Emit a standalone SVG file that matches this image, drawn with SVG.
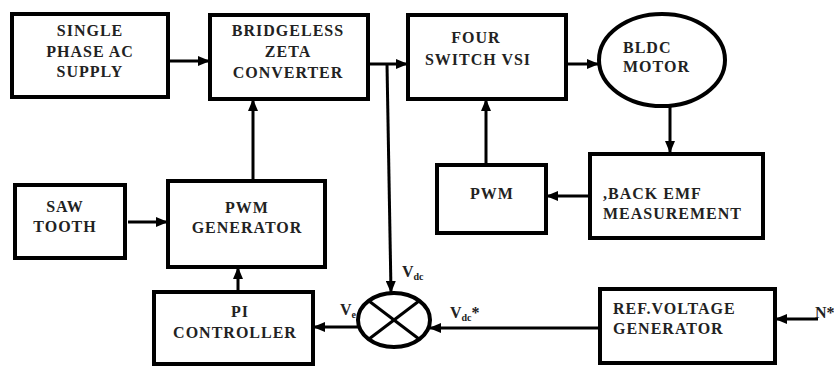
<svg xmlns="http://www.w3.org/2000/svg" width="834" height="367" viewBox="0 0 834 367">
<style>
.box{fill:#fff;stroke:#000;stroke-width:4}
text{font-family:'Liberation Serif',serif;font-weight:bold;font-size:16px;fill:#222}
.t{letter-spacing:1px}
.c{text-anchor:middle}
.ln{stroke:#000;stroke-width:3;fill:none}
.sub{font-size:10px}
</style>
<defs>
<marker id="ah" markerUnits="userSpaceOnUse" markerWidth="12" markerHeight="10" refX="11" refY="5" orient="auto">
<path d="M0,0 L12,5 L0,10 Z" fill="#000"/>
</marker>
</defs>
<rect width="834" height="367" fill="#fff"/>

<g id="connectors">
<line class="ln" x1="168" y1="61" x2="209" y2="61" marker-end="url(#ah)"/>
<line class="ln" x1="368" y1="64" x2="407" y2="64" marker-end="url(#ah)"/>
<line class="ln" x1="566" y1="64" x2="598" y2="64" marker-end="url(#ah)"/>
<line class="ln" x1="670" y1="106" x2="670" y2="152" marker-end="url(#ah)"/>
<line class="ln" x1="590" y1="196" x2="547" y2="196" marker-end="url(#ah)"/>
<line class="ln" x1="486" y1="165" x2="486" y2="100" marker-end="url(#ah)"/>
<line class="ln" x1="387" y1="64" x2="391" y2="292" marker-end="url(#ah)"/>
<line class="ln" x1="128" y1="222" x2="167" y2="222" marker-end="url(#ah)"/>
<line class="ln" x1="253" y1="180" x2="253" y2="100" marker-end="url(#ah)"/>
<line class="ln" x1="238" y1="291" x2="238" y2="268" marker-end="url(#ah)"/>
<line class="ln" x1="358" y1="327" x2="314" y2="327" marker-end="url(#ah)"/>
<line class="ln" x1="600" y1="328" x2="430" y2="328" marker-end="url(#ah)"/>
<line class="ln" x1="818" y1="319" x2="776" y2="319" marker-end="url(#ah)"/>
</g>

<g id="supply">
<rect class="box" x="12" y="14" width="156" height="83"/>
<text class="t c" x="90" y="36">SINGLE</text>
<text class="t c" x="90" y="57">PHASE AC</text>
<text class="t c" x="90" y="77">SUPPLY</text>
</g>

<g id="zeta">
<rect class="box" x="210" y="15" width="158" height="84"/>
<text class="t c" x="288" y="36">BRIDGELESS</text>
<text class="t c" x="288" y="57">ZETA</text>
<text class="t c" x="288" y="78">CONVERTER</text>
</g>

<g id="vsi">
<rect class="box" x="408" y="15" width="158" height="84"/>
<text class="t c" x="476" y="43">FOUR</text>
<text class="t c" x="478" y="65">SWITCH VSI</text>
</g>

<g id="motor">
<ellipse cx="662" cy="60" rx="63" ry="46" fill="#fff" stroke="#000" stroke-width="4"/>
<text class="t" x="623" y="53">BLDC</text>
<text class="t" x="623" y="72">MOTOR</text>
</g>

<g id="backemf">
<rect class="box" x="590" y="154" width="173" height="84"/>
<text class="t" x="603" y="199">,BACK EMF</text>
<text class="t" x="603" y="219">MEASUREMENT</text>
</g>

<g id="pwm">
<rect class="box" x="437" y="165" width="109" height="68"/>
<text class="t c" x="492" y="199">PWM</text>
</g>

<g id="sawtooth">
<rect class="box" x="15" y="185" width="110" height="73"/>
<text class="t c" x="65" y="212">SAW</text>
<text class="t c" x="65" y="232">TOOTH</text>
</g>

<g id="pwmgen">
<rect class="box" x="168" y="181" width="157" height="86"/>
<text class="t c" x="247" y="213">PWM</text>
<text class="t c" x="247" y="233">GENERATOR</text>
</g>

<g id="pi">
<rect class="box" x="154" y="292" width="159" height="72"/>
<text class="t c" x="240" y="317">PI</text>
<text class="t c" x="235" y="338">CONTROLLER</text>
</g>

<g id="sum">
<ellipse cx="394" cy="320" rx="36" ry="27" fill="#fff" stroke="#000" stroke-width="4"/>
<line x1="369" y1="301" x2="419" y2="339" stroke="#000" stroke-width="3"/>
<line x1="369" y1="339" x2="419" y2="301" stroke="#000" stroke-width="3"/>
</g>

<g id="refgen">
<rect class="box" x="600" y="289" width="175" height="74"/>
<text class="t" x="613" y="314">REF.VOLTAGE</text>
<text class="t" x="613" y="334">GENERATOR</text>
</g>

<g id="labels">
<text x="402" y="277">V<tspan class="sub" dy="3">dc</tspan></text>
<text x="340" y="315">V<tspan class="sub" dy="3">e</tspan></text>
<text x="450" y="318">V<tspan class="sub" dy="3">dc</tspan><tspan dy="-3">*</tspan></text>
<text x="815" y="318">N*</text>
</g>
</svg>
